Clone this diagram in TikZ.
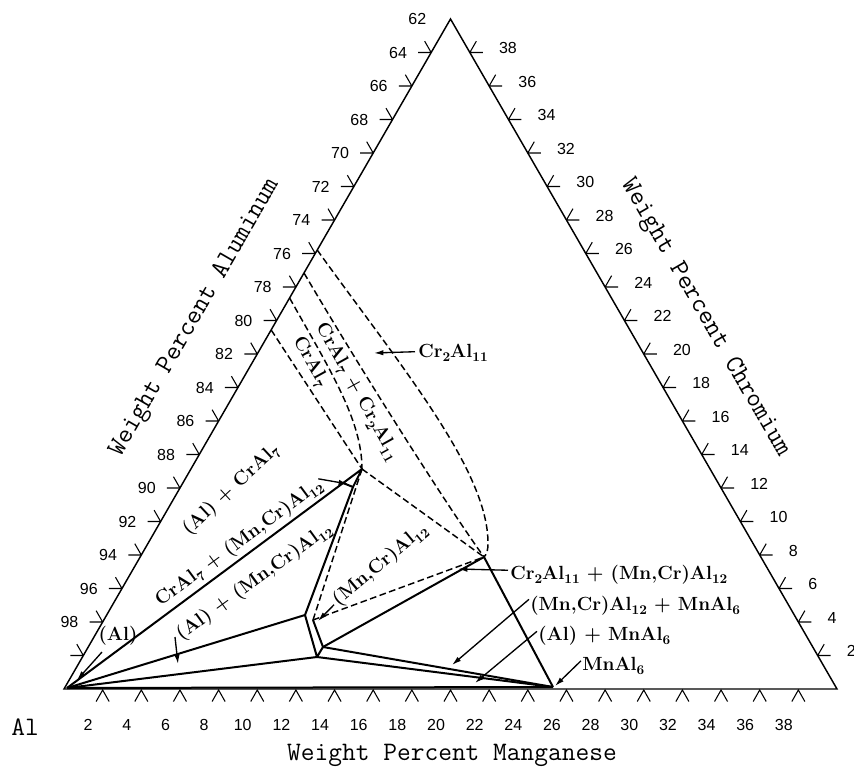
\documentclass[tikz,border=0pt]{standalone}
\usepackage{fontspec}
\newfontfamily\numfont{Liberation Sans}
\usetikzlibrary{arrows.meta}
\newcommand{\sbs}[1]{\raisebox{-0.25em}{\fontsize{10}{10}\selectfont #1}}
\begin{document}
\begin{tikzpicture}[x=0.75pt,y=-0.75pt,
  edge/.style={line width=1.1pt},
  tickmark/.style={line width=0.8pt},
  bnd/.style={line width=1.5pt, line join=round},
  dsh/.style={line width=1.1pt, dash pattern=on 5pt off 2.6pt},
  lead/.style={line width=1pt,-{Latex[length=7pt,width=4pt]}},
  numlab/.style={font=\numfont\fontsize{12}{12}\selectfont, inner sep=0pt},
  phase/.style={font=\bfseries\fontsize{14.3}{14.3}\selectfont, inner sep=0pt},
  axtitle/.style={font=\ttfamily\fontsize{20}{20}\selectfont, inner sep=0pt}]
\useasboundingbox (0,0) rectangle (854,778);
\fill[white] (0,0) rectangle (854,778);

% frame
\coordinate (BL) at (64,689);
\coordinate (BR) at (837,689);
\coordinate (TOP) at (450.5,19);
\draw[edge] (BL) -- (BR) -- (TOP) -- cycle;

% ticks
\foreach \k in {1,...,19} {
  \coordinate (LP\k) at ({64+19.325*\k},{689-33.5*\k});
  \coordinate (RP\k) at ({837-19.325*\k},{689-33.5*\k});
  \coordinate (BP\k) at ({64+38.65*\k},690);
  \draw[tickmark] (LP\k) -- ++(-13,0) (LP\k) -- ++(-6.5,-11.3);
  \draw[tickmark] (RP\k) -- ++(13,0) (RP\k) -- ++(6.5,-11.3);
  \draw[tickmark] (BP\k) ++(-6.5,11.5) -- ++(6.5,-11.5) -- ++(6.5,11.5);
}
\foreach \k [evaluate=\k as \v using int(102-2*\k)] in {2,...,20} {
  \node[numlab, anchor=east] (ll\k) at ({64+19.325*\k-24},{689-33.5*\k}) {\v};
}
\foreach \k [evaluate=\k as \v using int(2*\k)] in {1,...,19} {
  \node[numlab, anchor=west] (rl\k) at ({837-19.325*\k+29},{689-33.5*\k-4.5}) {\v};
  \node[numlab] (bl\k) at ({64+38.65*\k-14.5},725) {\v};
}

% key points
\coordinate (O) at (67,688);
\coordinate (V1) at (362,469);
\coordinate (V2) at (353,487);
\coordinate (V3) at (343,483);
\coordinate (B1) at (305,615);
\coordinate (B2) at (313,620);
\coordinate (B3) at (323,647);
\coordinate (B4) at (317,657);
\coordinate (CV) at (484,557);
\coordinate (MN) at (553,687);
\coordinate (E1) at (317.2,250);
\coordinate (E2) at (304,273);
\coordinate (E3) at (289.6,298);
\coordinate (E4) at (271.2,330);

% solid boundaries
\draw[bnd] (O) -- (V1) -- (V2) -- (V3);
\draw[bnd] (V2) -- (B1);
\draw[bnd] (O) -- (B1);
\draw[bnd] (O) -- (B4);
\draw[bnd] (B1) -- (B4) -- (B3) -- (B2);
\draw[bnd] (B3) -- (CV) -- (MN);
\draw[bnd] (B3) -- (MN);
\draw[bnd] (B4) -- (MN);
\draw[bnd] (O) -- (MN);

% dashed boundaries
\draw[dsh] (E1) .. controls (400,365) and (488,470) .. (488,543) .. controls (488,550) and (487,554) .. (CV);
\draw[dsh] (E2) .. controls (370,385) and (450,510) .. (CV);
\draw[dsh] (E3) .. controls (330,370) and (362,420) .. (V1);
\draw[dsh] (E4) -- (V1);
\draw[dsh] (V1) -- (CV);
\draw[dsh] (V1) -- (B2);
\draw[dsh] (B2) -- (CV);

% phase labels
\node[phase, rotate=-61] (pCrAl7) at (310,362) {CrAl\sbs{7}};
\node[phase, rotate=-61] (pCrCr) at (357,392) {CrAl\sbs{7} + Cr\sbs{2}Al\sbs{11}};
\node[phase, rotate=43] (pAlCr) at (231,490) {(Al) + CrAl\sbs{7}};
\node[phase, rotate=36.5] (pCrMn) at (239,543) {CrAl\sbs{7} + (Mn,Cr)Al\sbs{12}};
\node[phase, rotate=36] (pAlMn) at (254,582) {(Al) + (Mn,Cr)Al\sbs{12}};
\node[phase, rotate=40] (pMn) at (380,565) {(Mn,Cr)Al\sbs{12}};
\node[phase] (pAl) at (118,636) {(Al)};
\node[phase, anchor=base west] (lCr) at (418,357) {Cr\sbs{2}Al\sbs{11}};
\node[phase, anchor=base west] (l1) at (510,579) {Cr\sbs{2}Al\sbs{11} + (Mn,Cr)Al\sbs{12}};
\node[phase, anchor=base west] (l2) at (530,610) {(Mn,Cr)Al\sbs{12} + MnAl\sbs{6}};
\node[phase, anchor=base west] (l3) at (538,640) {(Al) + MnAl\sbs{6}};
\node[phase, anchor=base west] (l4) at (582,670) {MnAl\sbs{6}};

% leader arrows
\coordinate (tCr) at (374,353);
\coordinate (tCrMn) at (348,484);
\coordinate (tAlMn) at (178,664);
\coordinate (tAl) at (77,680);
\coordinate (tMn) at (318,621);
\coordinate (t1) at (458,569);
\coordinate (t2) at (452,665);
\coordinate (t3) at (475,683);
\coordinate (t4) at (555,686);
\draw[lead] ([shift={(-3,-1)}]lCr.west) -- (tCr);
\draw[lead] ([shift={(-2,-4)}]pCrMn.east) -- (tCrMn);
\draw[lead] (175,637) -- (tAlMn);
\draw[lead] (102,652) -- (tAl);
\draw[lead] ([shift={(-1,2)}]pMn.west) -- (tMn);
\draw[lead] ([shift={(-2,-4)}]l1.west) -- (t1);
\draw[lead] ([shift={(-1,-6)}]l2.west) -- (t2);
\draw[lead] ([shift={(-1,-4)}]l3.west) -- (t3);
\draw[lead] ([shift={(-1,-5)}]l4.west) -- (t4);

% axis titles
\node[axtitle, rotate=60] (tAlum) at (195,318) {Weight Percent Aluminum};
\node[axtitle, rotate=-60] (tChrom) at (705,318) {Weight Percent Chromium};
\node[axtitle, anchor=base] (tMang) at (452,760) {Weight Percent Manganese};
\node[axtitle, anchor=base west] (cAl) at (11,735) {Al};
\end{tikzpicture}
\end{document}
